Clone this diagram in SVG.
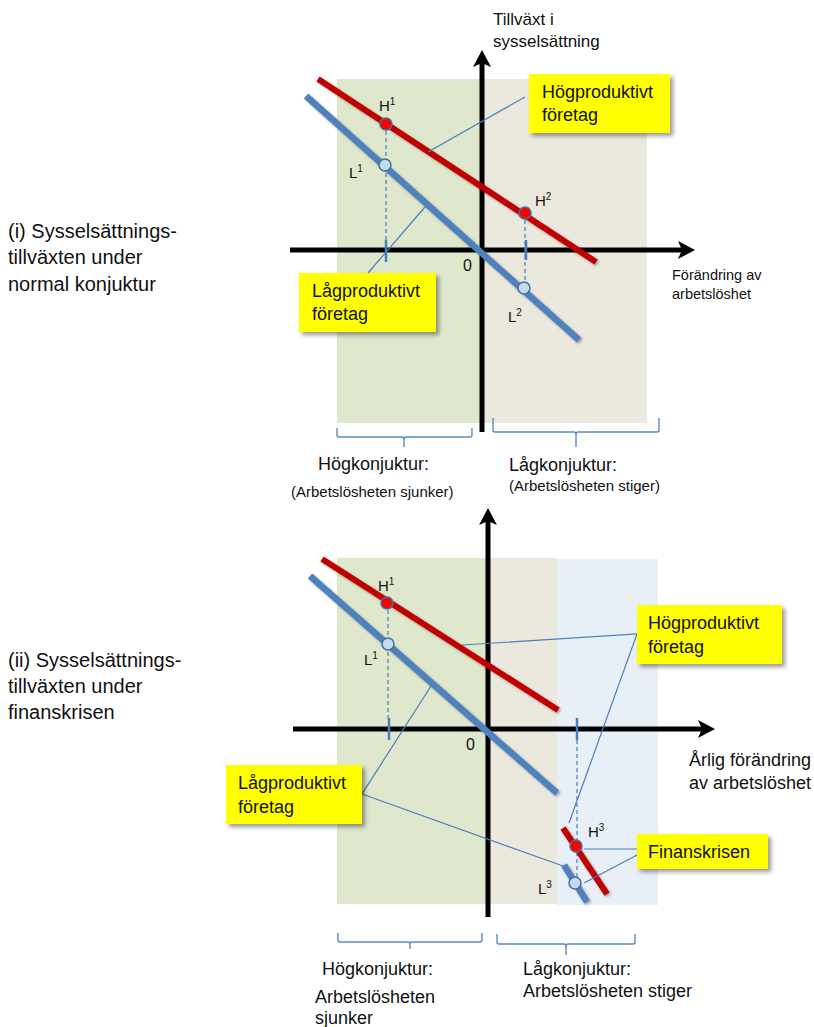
<svg xmlns="http://www.w3.org/2000/svg" width="814" height="1027" viewBox="0 0 814 1027">
<defs>
<style>
text{font-family:"Liberation Sans",Arial,sans-serif;fill:#111}
.ax{stroke:#000;stroke-width:5;fill:none}
.red{stroke:#c00000;stroke-width:6;stroke-linecap:butt;filter:url(#sh)}
.blue{stroke:#4f81bd;stroke-width:6.5;stroke-linecap:butt;filter:url(#sh)}
.lead{stroke:#4a7ebb;stroke-width:1.2;fill:none}
.dash{stroke:#4a7ebb;stroke-width:1.2;stroke-dasharray:4 3;fill:none}
.tick{stroke:#4a7ebb;stroke-width:2.5}
.brace{stroke:#5b8cc6;stroke-width:1.4;fill:none}
.box{fill:#ffff00;filter:url(#bsh)}
.bt{font-size:18px}
.pH{fill:#ff0000;stroke:#41719c;stroke-width:1.5}
.pL{fill:#c6d9f1;stroke:#41719c;stroke-width:1.5}
.lbl{font-size:15px}
.sup{font-size:10px}
</style>
<filter id="sh" x="-20%" y="-20%" width="140%" height="140%"><feDropShadow dx="1.5" dy="1.5" stdDeviation="1" flood-opacity="0.35"/></filter>
<filter id="bsh" x="-20%" y="-20%" width="140%" height="150%"><feDropShadow dx="3" dy="3" stdDeviation="2" flood-opacity="0.4"/></filter>
<marker id="ah" markerWidth="4" markerHeight="4" refX="1" refY="2" orient="auto" markerUnits="strokeWidth"><path d="M0,0 L4,2 L0,4 L1,2 Z" fill="#000"/></marker>
</defs>

<!-- Panel (i) background -->
<g id="bg1">
<rect x="337" y="79" width="145" height="344" fill="#dfe8cd"/>
<rect x="482" y="79" width="165" height="344" fill="#ebe8dd"/>
</g>
<!-- Panel (ii) background -->
<g id="bg2">
<rect x="337" y="558" width="151" height="346" fill="#dfe8cd"/>
<rect x="488" y="558" width="69" height="346" fill="#ebe8dd"/>
<rect x="557" y="559" width="101" height="346" fill="#e9eff7"/>
</g>

<!-- Side titles -->
<g id="title1" font-size="20">
<text x="8" y="238" style="font-size:20px">(i) Sysselsättnings-</text>
<text x="8" y="264" style="font-size:20px">tillväxten under</text>
<text x="8" y="291" style="font-size:20px">normal konjuktur</text>
</g>
<g id="title2">
<text x="8" y="667" style="font-size:20px">(ii) Sysselsättnings-</text>
<text x="8" y="693" style="font-size:20px">tillväxten under</text>
<text x="8" y="719" style="font-size:20px">finanskrisen</text>
</g>

<!-- Panel (i) axes -->
<g id="axes1">
<line class="ax" x1="290" y1="250" x2="683" y2="250"/>
<path d="M695,250 L678,241 L682,250 L678,259 Z" fill="#000"/>
<line class="ax" x1="482" y1="432" x2="482" y2="62"/>
<path d="M482,50 L473,67 L482,63 L491,67 Z" fill="#000"/>
<text x="493" y="25" style="font-size:17px">Tillväxt i</text>
<text x="493" y="47" style="font-size:17px">sysselsättning</text>
<text x="672" y="280" style="font-size:14.5px">Förändring av</text>
<text x="672" y="299" style="font-size:14.5px">arbetslöshet</text>
<text x="463" y="271" style="font-size:16px">0</text>
</g>

<!-- Panel (i) curves -->
<g id="curves1">
<line class="red" x1="318" y1="79" x2="596" y2="262"/>
<line class="blue" x1="306" y1="96" x2="579" y2="340"/>
<line class="dash" x1="386" y1="124" x2="386" y2="240"/>
<line class="dash" x1="525" y1="213" x2="525" y2="288"/>
<line class="tick" x1="386" y1="240" x2="386" y2="262"/>
<line class="tick" x1="526" y1="240" x2="526" y2="260"/>
</g>

<!-- Panel (i) connectors -->
<g id="connectors1">
<line class="lead" x1="525" y1="97" x2="428" y2="152"/>
<line class="lead" x1="368" y1="273" x2="425" y2="207"/>
</g>

<!-- Panel (i) points -->
<g id="H1a"><circle class="pH" cx="386" cy="124" r="6"/><text class="lbl" x="379" y="111" style="font-size:15px">H<tspan class="sup" dy="-6" style="font-size:10px">1</tspan></text></g>
<g id="L1a"><circle class="pL" cx="385" cy="165" r="6"/><text class="lbl" x="349" y="178" style="font-size:15px">L<tspan class="sup" dy="-6" style="font-size:10px">1</tspan></text></g>
<g id="H2"><circle class="pH" cx="525" cy="213" r="6"/><text class="lbl" x="535" y="206" style="font-size:15px">H<tspan class="sup" dy="-6" style="font-size:10px">2</tspan></text></g>
<g id="L2"><circle class="pL" cx="524" cy="288" r="6"/><text class="lbl" x="508" y="322" style="font-size:15px">L<tspan class="sup" dy="-6" style="font-size:10px">2</tspan></text></g>

<!-- Panel (i) callouts -->
<g id="hog1"><rect class="box" x="529" y="74" width="141" height="59"/><text class="bt" x="542" y="98">Högproduktivt</text><text class="bt" x="542" y="121">företag</text></g>
<g id="lag1"><rect class="box" x="299" y="273" width="137" height="59"/><text class="bt" x="312" y="297">Lågproduktivt</text><text class="bt" x="312" y="320">företag</text></g>

<!-- Panel (i) braces -->
<g id="braces1">
<path class="brace" d="M337,428 L337,435 Q337,437 339,437 L402,437 Q404,437 404,440 L404,447 M404,440 Q404,437 406,437 L470,437 Q472,437 472,435 L472,428"/>
<path class="brace" d="M493,418 L493,430 Q493,432 495,432 L574,432 Q576,432 576,435 L576,447 M576,435 Q576,432 578,432 L657,432 Q659,432 659,430 L659,418"/>
<text x="318" y="470" style="font-size:18px">Högkonjuktur:</text>
<text x="291" y="497" style="font-size:15px">(Arbetslösheten sjunker)</text>
<text x="509" y="471" style="font-size:18px">Lågkonjuktur:</text>
<text x="509" y="491" style="font-size:15px">(Arbetslösheten stiger)</text>
</g>

<!-- Panel (ii) axes -->
<g id="axes2">
<line class="ax" x1="293" y1="729" x2="703" y2="729"/>
<path d="M715,729 L698,720 L702,729 L698,738 Z" fill="#000"/>
<line class="ax" x1="488" y1="917" x2="488" y2="520"/>
<path d="M488,508 L479,525 L488,521 L497,525 Z" fill="#000"/>
<text x="689" y="766" style="font-size:18px">Årlig förändring</text>
<text x="689" y="789" style="font-size:18px">av arbetslöshet</text>
<text x="466" y="750" style="font-size:16px">0</text>
</g>

<!-- Panel (ii) curves -->
<g id="curves2">
<line class="red" x1="322" y1="559" x2="558" y2="710"/>
<line class="blue" x1="310" y1="576" x2="557" y2="793"/>
<line class="red" x1="563" y1="828" x2="607" y2="894"/>
<line class="blue" x1="564" y1="865" x2="587" y2="902"/>
<line class="dash" x1="388" y1="603" x2="388" y2="718"/>
<line class="dash" x1="577" y1="740" x2="577" y2="877"/>
<line class="tick" x1="389" y1="718" x2="389" y2="740"/>
<line class="tick" x1="577" y1="718" x2="577" y2="740"/>
</g>

<!-- Panel (ii) connectors -->
<g id="connectors2">
<polyline class="lead" points="462,645 637,634 569,823"/>
<polyline class="lead" points="431,686 362,794 563,866"/>
<line class="lead" x1="637" y1="849" x2="584" y2="849"/>
<line class="lead" x1="637" y1="855" x2="584" y2="883"/>
</g>

<!-- Panel (ii) points -->
<g id="H1b"><circle class="pH" cx="387" cy="603" r="6"/><text class="lbl" x="378" y="591" style="font-size:15px">H<tspan class="sup" dy="-6" style="font-size:10px">1</tspan></text></g>
<g id="L1b"><circle class="pL" cx="388" cy="644" r="6"/><text class="lbl" x="364" y="665" style="font-size:15px">L<tspan class="sup" dy="-6" style="font-size:10px">1</tspan></text></g>
<g id="H3"><circle class="pH" cx="576" cy="846" r="6"/><text class="lbl" x="588" y="837" style="font-size:15px">H<tspan class="sup" dy="-6" style="font-size:10px">3</tspan></text></g>
<g id="L3"><circle class="pL" cx="575" cy="883" r="6"/><text class="lbl" x="538" y="894" style="font-size:15px">L<tspan class="sup" dy="-6" style="font-size:10px">3</tspan></text></g>

<!-- Panel (ii) callouts -->
<g id="hog2"><rect class="box" x="637" y="605" width="145" height="59"/><text class="bt" x="648" y="629">Högproduktivt</text><text class="bt" x="648" y="653">företag</text></g>
<g id="lag2"><rect class="box" x="226" y="765" width="136" height="59"/><text class="bt" x="238" y="789">Lågproduktivt</text><text class="bt" x="238" y="813">företag</text></g>
<g id="finans"><rect class="box" x="637" y="834" width="131" height="35"/><text class="bt" x="648" y="858">Finanskrisen</text></g>

<!-- Panel (ii) braces -->
<g id="braces2">
<path class="brace" d="M338,933 L338,940 Q338,942 340,942 L408,942 Q410,942 410,944 L410,949 M410,944 Q410,942 412,942 L480,942 Q482,942 482,940 L482,933"/>
<path class="brace" d="M497,934 L497,942 Q497,944 499,944 L564,944 Q566,944 566,947 L566,955 M566,947 Q566,944 568,944 L633,944 Q635,944 635,942 L635,934"/>
<text x="322" y="975" style="font-size:18px">Högkonjuktur:</text>
<text x="315" y="1003" style="font-size:18px">Arbetslösheten</text>
<text x="315" y="1024" style="font-size:18px">sjunker</text>
<text x="523" y="975" style="font-size:18px">Lågkonjuktur:</text>
<text x="523" y="997" style="font-size:18px">Arbetslösheten stiger</text>
</g>
</svg>
